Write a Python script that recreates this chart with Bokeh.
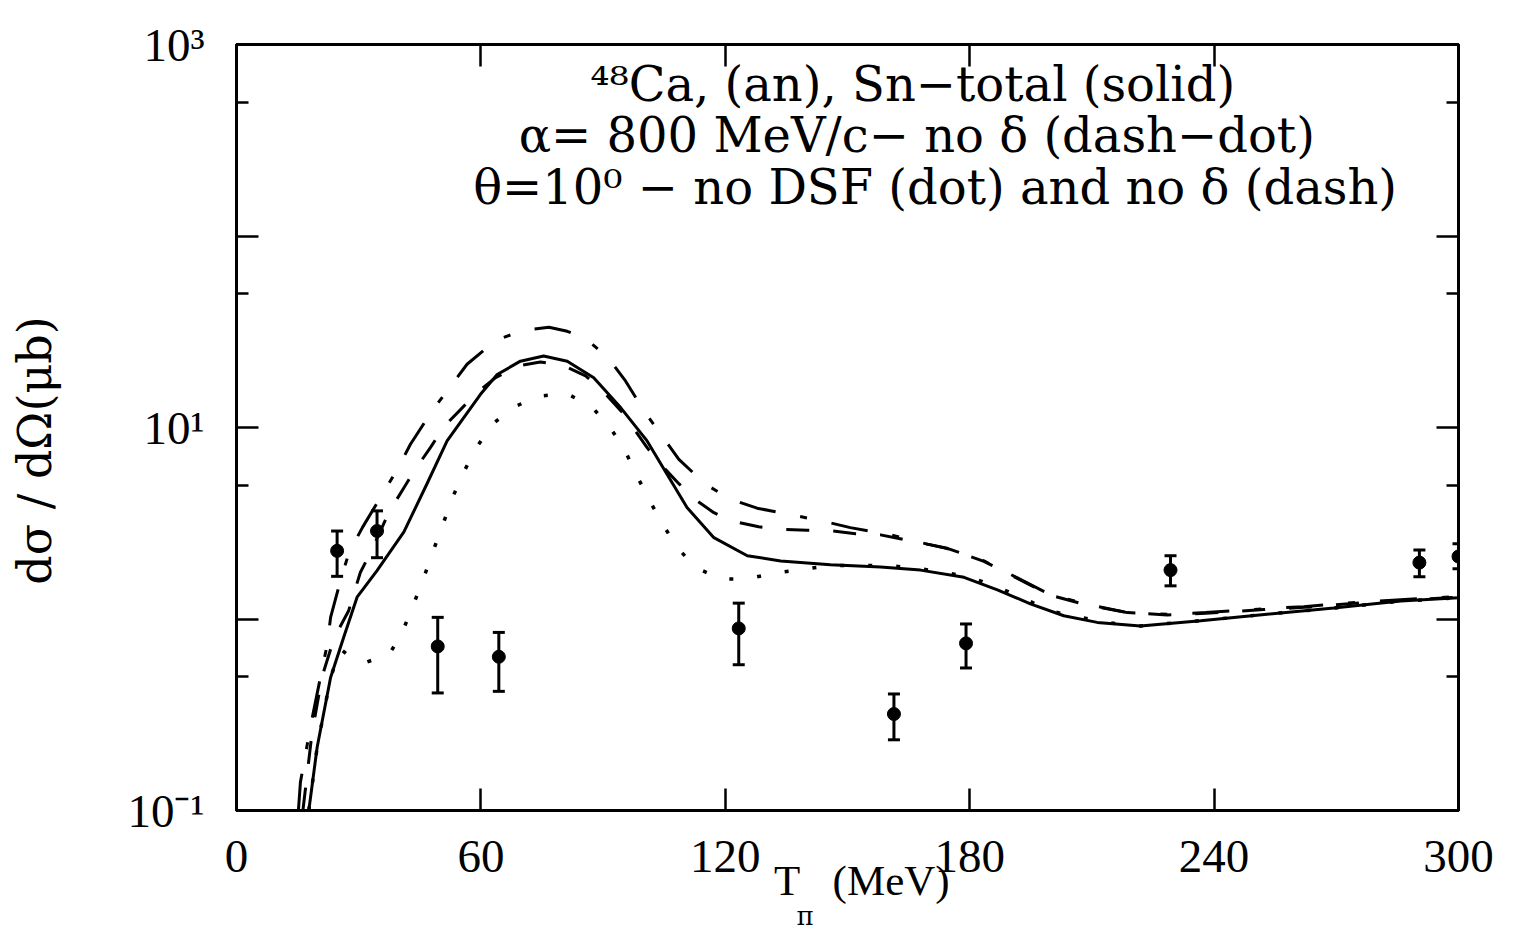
from bokeh.plotting import figure
from bokeh.models import (ColumnDataSource, FixedTicker, LinearAxis, LogAxis, Whisker,
                          TeeHead, Label, Title, CustomJSTickFormatter)
from bokeh.embed import file_html
from bokeh.resources import INLINE

# ---- model curves: T_pi (MeV) vs d(sigma)/d(Omega) (microbarn) ----
t_solid = [17.75, 19.8, 23.1, 26.3, 29.6, 34.5, 41.1, 46.8, 51.7, 59.9, 64.0, 69.7, 75.4,
           81.2, 87.7, 94.3, 100.8, 105.7, 110.6, 117.2, 125.4, 133.6, 145.8, 158.1, 167.9,
           178.6, 186.8, 194.9, 203.1, 211.3, 221.9, 236.7, 253.0, 269.4, 285.8, 300.0]
s_solid = [0.10, 0.214, 0.495, 0.80, 1.30, 1.79, 2.85, 5.10, 8.51, 14.9, 18.9, 22.2, 23.6,
           22.2, 18.2, 12.7, 8.51, 5.70, 3.82, 2.66, 2.14, 2.01, 1.92, 1.87, 1.80,
           1.65, 1.42, 1.20, 1.04, 0.96, 0.92, 0.98, 1.06, 1.14, 1.24, 1.29]

t_dashdot = [15.2, 15.7, 18.2, 20.6, 22.3, 23.1, 25.5, 27.6, 30.9, 35.8, 39.5, 42.7, 48.0,
             56.6, 63.6, 70.1, 76.7, 81.2, 85.7, 91.3, 95.5, 100.4, 104.5, 108.6, 115.1,
             121.3, 127.8, 133.6, 143.8, 150.7, 160.6, 169.6, 174.5, 183.5, 191.7, 199.8,
             208.4, 218.7, 228.5, 237.9, 252.2, 262.0, 276.8, 285.8, 300.0]
s_dashdot = [0.10, 0.141, 0.277, 0.495, 0.740, 1.02, 1.58, 2.22, 3.00, 4.48, 6.05, 8.17, 12.2,
             21.4, 28.5, 32.0, 33.4, 31.8, 29.2, 23.0, 17.5, 11.9, 9.03, 6.82, 5.06,
             4.22, 3.79, 3.59, 3.25, 3.00, 2.75, 2.46, 2.34, 2.01, 1.64, 1.34,
             1.20, 1.08, 1.06, 1.08, 1.13, 1.16, 1.23, 1.26, 1.31]

t_dash = [16.3, 18.5, 21.0, 24.0, 27.5, 30.4, 32.9, 37.4, 41.1, 43.9, 47.6, 50.9, 55.0,
          58.7, 63.6, 68.9, 74.6, 80.0, 85.7, 89.8, 95.0, 100.8, 104.1, 108.6, 111.9,
          117.2, 122.1, 128.2, 133.6, 140.1, 145.8, 152.0, 158.1, 169.6, 174.5, 183.5,
          191.7, 199.8, 208.4, 218.7, 228.5, 237.9, 252.2, 262.0, 276.8, 285.8, 300.0]
s_dash = [0.10, 0.25, 0.50, 0.80, 1.10, 1.75, 2.22, 3.60, 4.85, 6.05, 7.85, 10.1, 12.4,
          15.0, 18.2, 20.9, 22.0, 21.2, 18.6, 15.6, 11.8, 7.85, 6.43, 5.09, 4.31,
          3.59, 3.23, 3.03, 2.94, 2.91, 2.89, 2.79, 2.75, 2.46, 2.33, 2.00,
          1.63, 1.33, 1.19, 1.08, 1.05, 1.07, 1.12, 1.15, 1.22, 1.25, 1.30]

t_dot = [17.75, 19.8, 23.1, 25.5, 28.5, 31.7, 37.6, 40.9, 43.5, 46.0, 48.3, 50.7, 53.0,
         55.8, 58.9, 62.8, 68.1, 74.4, 81.2, 87.1, 91.6, 95.3, 98.2, 101.3, 104.6,
         108.2, 112.7, 118.8, 125.4, 132.4, 139.3, 145.8, 160.1, 167.1, 174.1, 180.6,
         187.1, 193.7, 199.8, 213.3, 221.9, 236.7, 253.0, 269.4, 285.8, 300.0]
s_dot = [0.10, 0.214, 0.495, 0.697, 0.62, 0.593, 0.656, 0.875, 1.20, 1.65, 2.27, 3.13, 4.29,
         5.86, 7.85, 10.4, 12.8, 14.6, 15.0, 12.9, 10.1, 7.63, 5.65, 4.19, 3.13,
         2.36, 1.86, 1.62, 1.62, 1.74, 1.82, 1.90, 1.90, 1.84, 1.75, 1.64,
         1.46, 1.27, 1.10, 0.96, 0.92, 0.98, 1.06, 1.14, 1.24, 1.29]

# ---- measured points with error bars ----
t_exp = [24.7, 34.5, 49.4, 64.4, 123.3, 161.4, 179.1, 229.3, 290.4, 300.0]
s_exp = [2.27, 2.88, 0.719, 0.635, 0.893, 0.319, 0.746, 1.80, 1.97, 2.12]
s_exp_hi = [2.88, 3.67, 1.02, 0.851, 1.21, 0.406, 0.942, 2.14, 2.29, 2.47]
s_exp_lo = [1.67, 2.09, 0.411, 0.419, 0.577, 0.234, 0.555, 1.49, 1.66, 1.83]

x_ticks = [0, 60, 120, 180, 240, 300]
y_major = [0.1, 1, 10, 100, 1000]
y_minor = [0.5, 5, 50, 500]
y_labels = {0.1: "10\u207b\u00b9", 1: "", 10: "10\u00b9", 100: "", 1000: "10\u00b3"}

title_lines = ["\u2074\u2078Ca, (an), Sn\u2212total (solid)",
               "\u03b1= 800 MeV/c\u2212 no \u03b4 (dash\u2212dot)",
               "\u03b8=10\u2070 \u2212 no DSF (dot) and no \u03b4 (dash)"]

SERIF = "DejaVu Serif"
NUM = "Liberation Serif"

p = figure(width=1513, height=932, x_range=(0, 300), y_range=(0.1, 1000),
           y_axis_type="log", output_backend="svg", toolbar_location=None,
           min_border_left=236, min_border_right=55, min_border_top=44,
           min_border_bottom=122, background_fill_color="white",
           border_fill_color="white")
p.grid.visible = False
p.outline_line_color = "black"
p.outline_line_width = 3

blank = CustomJSTickFormatter(code="return ''")

def style_axis(ax, show_labels):
    ax.axis_line_width = 3
    ax.axis_line_color = "black"
    ax.major_tick_in = 22
    ax.major_tick_out = 0
    ax.minor_tick_in = 12
    ax.minor_tick_out = 0
    ax.major_tick_line_width = 2.5
    ax.minor_tick_line_width = 2.5
    ax.major_label_text_font = NUM
    ax.major_label_text_font_size = "47px"
    ax.major_label_text_color = "black"
    ax.major_label_standoff = 30
    if not show_labels:
        ax.formatter = blank

# bottom / top x axes
xax = p.xaxis[0]
xax.ticker = FixedTicker(ticks=x_ticks)
style_axis(xax, True)
xax.axis_label = "\u2002\u2006T\u2002 (MeV)"
xax.axis_label_text_font = NUM
xax.axis_label_text_font_style = "normal"
xax.axis_label_text_font_size = "43px"
xax.axis_label_text_color = "black"
xax.axis_label_standoff = -18
xtop = LinearAxis(ticker=FixedTicker(ticks=x_ticks))
style_axis(xtop, False)
p.add_layout(xtop, "above")

# left / right log axes
yax = p.yaxis[0]
yax.ticker = FixedTicker(ticks=y_major, minor_ticks=y_minor)
yax.major_label_overrides = y_labels
style_axis(yax, True)
yax.major_label_standoff = 32
yax.axis_label = "d\u03c3 / d\u03a9(\u03bcb)\u2003"
yax.axis_label_text_font = SERIF
yax.axis_label_text_font_style = "normal"
yax.axis_label_text_font_size = "46px"
yax.axis_label_text_color = "black"
yax.axis_label_standoff = 62
yright = LogAxis(ticker=FixedTicker(ticks=y_major, minor_ticks=y_minor))
style_axis(yright, False)
p.add_layout(yright, "right")

# subscript of the x-axis title
p.add_layout(Title(text="\u03c0", align="left", offset=560, standoff=-16,
                   text_font=SERIF, text_font_size="26px", text_font_style="normal",
                   text_color="black"), "below")

# model curves
p.line(t_solid, s_solid, line_color="black", line_width=3)
p.line(t_dashdot, s_dashdot, line_color="black", line_width=3, line_dash="37 25 7 25")
p.line(t_dash, s_dash, line_color="black", line_width=3, line_dash="23 24")
p.line(t_dot, s_dot, line_color="black", line_width=3.5, line_dash="4 24")

# data with error bars
src = ColumnDataSource(data=dict(t=t_exp, s=s_exp, hi=s_exp_hi, lo=s_exp_lo))
err = Whisker(source=src, base="t", upper="hi", lower="lo", line_width=3, line_color="black",
              upper_head=TeeHead(size=12, line_width=3, line_color="black"),
              lower_head=TeeHead(size=12, line_width=3, line_color="black"))
p.add_layout(err)
p.scatter("t", "s", source=src, size=13, color="black")

# annotation block inside the frame
for line, xv, yv in zip(title_lines, [166, 167, 171.5], [625, 338, 181]):
    p.add_layout(Label(x=xv, y=yv, text=line, text_align="center", text_baseline="middle",
                       text_font=SERIF, text_font_size="48px", text_color="black"))

open("out.html", "w").write(file_html(p, INLINE))
